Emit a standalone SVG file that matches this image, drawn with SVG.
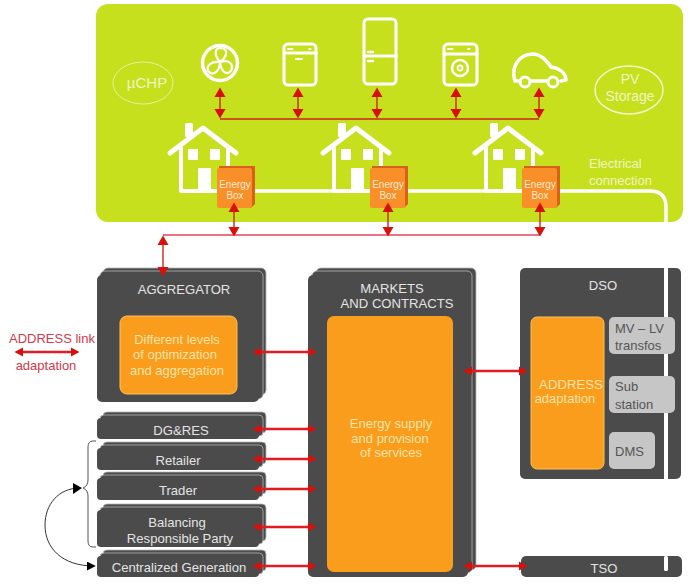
<svg xmlns="http://www.w3.org/2000/svg" width="700" height="587" viewBox="0 0 700 587">
<style>
text{font-family:"Liberation Sans",Arial,sans-serif;text-anchor:middle}
.w{fill:none;stroke:#fff;stroke-width:3;stroke-linecap:round;stroke-linejoin:round}
.wf{fill:#fff}
.t-lime{fill:#eef6c0;font-size:14px}
.t-box{fill:#f7e9d0;font-size:10px}
.t-dark{fill:#e4e4e4;font-size:13.100px}
.t-org{fill:#fbe3a8;font-size:13px}
.t-gray{fill:#555;font-size:13px;text-anchor:start}
.dk{fill:#4b4b4b}
.dk2{fill:#4b4b4b;stroke:#b5b5b5;stroke-width:.8}
.org{fill:#fa9d1c}
.gr{fill:#c6c6c6}
.bus{fill:none;stroke:#c8281c;stroke-width:1.4}
.bus2{fill:none;stroke:#e8405a;stroke-width:1.4}
.stem{stroke:#c8281c;stroke-width:1.4}
.head{fill:#d80f0a}
.link{stroke:#e01b24;stroke-width:2.400;fill:none}
</style>
<defs>
<g id="house" class="w">
<path d="M170 153 203 128 236 153" stroke-width="5"/>
<rect x="185" y="123" width="8" height="14" rx="1.500" class="wf" stroke="none"/>
<path d="M181 148V191H220M228 150V168" stroke-width="4"/>
<rect x="188" y="149" width="10" height="11" class="wf" stroke="none"/>
<rect x="210" y="149" width="10" height="11" class="wf" stroke="none"/>
<rect x="198" y="168" width="13" height="23" class="wf" stroke="none"/>
</g>
<g id="ebox">
<path d="M2 0H38V38L34 42V4H2Z" fill="#d8601a"/>
<rect x="0" y="2" width="35" height="40" rx="2" fill="#f98f28"/>
</g>
<path id="hd" class="head" d="M-5.500 0 0-9.500 5.500 0Z"/>
<path id="hs" class="head" d="M-4.500 0 0-8.500 4.500 0Z"/>
<marker id="tri" viewBox="0 0 10 10" refX="8" refY="5" markerWidth="9" markerHeight="9" markerUnits="userSpaceOnUse" orient="auto"><path d="M0 0 10 5 0 10Z" fill="#000"/></marker>
</defs>

<g id="home-area">
<rect x="96" y="4" width="587" height="218" rx="12" fill="#c6e01e"/>
<path d="M255 191H650Q666 191 666 207V222" fill="none" stroke="#fff" stroke-width="3.500"/>
</g>

<g id="uchp"><ellipse cx="143" cy="83" rx="30" ry="21" fill="none" stroke="#e6f2a0" stroke-width="1"/><text x="147" y="88" class="t-lime" style="font-size:15px">µCHP</text></g>
<g id="pv-storage"><ellipse cx="629" cy="90" rx="34" ry="24" fill="none" stroke="#f1f8c8" stroke-width="1.500"/><text x="630" y="84" class="t-lime">PV</text><text x="630" y="101" class="t-lime">Storage</text></g>

<g id="fan" class="w"><circle cx="220" cy="63" r="17.500" stroke-width="3.500"/><path d="M220 62C214 55 214 48 221 48 229 49 227 57 220 62ZM220 62C229 59 234 64 231 71 226 76 221 71 220 62ZM220 62C220 71 213 77 208 71 206 65 212 61 220 62Z" stroke-width="2.200" fill="#c6e01e"/></g>
<g id="dishwasher" class="w"><rect x="284" y="44" width="32" height="41" rx="4"/><path d="M284 53H316"/><path d="M296 59H302" stroke-width="2"/><path d="M288 49H294M309 49H311" stroke-width="1.800" stroke-dasharray="1.500 1.500"/></g>
<g id="fridge" class="w"><rect x="364" y="19" width="32" height="65" rx="4"/><path d="M364 56H396"/><path d="M368 52H373M368 61H373" stroke-width="2.500"/></g>
<g id="washer" class="w"><rect x="444" y="44" width="33" height="41" rx="4"/><path d="M444 54H477"/><circle cx="460" cy="68" r="8" stroke-width="2.500"/><circle cx="460" cy="68" r="2.500" stroke-width="1.800"/><path d="M448 49H454M468 49H470" stroke-width="1.800" stroke-dasharray="1.500 1.500"/></g>
<g id="car" class="w"><path d="M520 81H515C511 69 517 55 532 54 541 54 546 60 551 67 559 68 566 73 566 80L561 81M531 81H547" stroke-width="3.500"/><circle cx="525" cy="82" r="5" stroke-width="3"/><circle cx="553" cy="82" r="5" stroke-width="3"/></g>

<g id="house-1"><use href="#house"/></g>
<g id="house-2"><use href="#house" x="153"/></g>
<g id="house-3"><use href="#house" x="305"/></g>

<g id="energy-box-1"><use href="#ebox" x="217" y="166"/><text x="235" y="188" class="t-box">Energy</text><text x="235" y="199" class="t-box">Box</text></g>
<g id="energy-box-2"><use href="#ebox" x="370" y="166"/><text x="388" y="188" class="t-box">Energy</text><text x="388" y="199" class="t-box">Box</text></g>
<g id="energy-box-3"><use href="#ebox" x="522" y="166"/><text x="540" y="188" class="t-box">Energy</text><text x="540" y="199" class="t-box">Box</text></g>

<g id="electrical-label"><text x="589" y="168" class="t-lime" style="font-size:13px;text-anchor:start">Electrical</text><text x="589" y="185" class="t-lime" style="font-size:13px;text-anchor:start">connection</text></g>

<g id="aggregator">
<rect x="103" y="268" width="163" height="127" rx="5" class="dk2"/><rect x="100" y="271" width="163" height="128" rx="5" class="dk2"/><rect x="97" y="275" width="162" height="127" rx="5" class="dk"/>
<text x="184" y="294" class="t-dark">AGGREGATOR</text>
<rect x="120" y="316" width="117" height="78" rx="7" class="org" stroke="#fbc25c"/>
<text x="177" y="344" class="t-org">Different levels</text><text x="175" y="359" class="t-org">of optimization</text><text x="177" y="375" class="t-org">and aggregation</text>
</g>
<g id="dg-res"><rect x="103" y="412" width="163" height="21" rx="4" class="dk2"/><rect x="100" y="415" width="163" height="21" rx="4" class="dk2"/><rect x="97" y="418" width="162" height="21" rx="4" class="dk"/><text x="181" y="435" class="t-dark">DG&amp;RES</text></g>
<g id="retailer"><rect x="103" y="442" width="163" height="22" rx="4" class="dk2"/><rect x="100" y="445" width="163" height="22" rx="4" class="dk2"/><rect x="97" y="448" width="162" height="22" rx="4" class="dk"/><text x="178" y="465" class="t-dark">Retailer</text></g>
<g id="trader"><rect x="103" y="472" width="163" height="22" rx="4" class="dk2"/><rect x="100" y="475" width="163" height="22" rx="4" class="dk2"/><rect x="97" y="478" width="162" height="22" rx="4" class="dk"/><text x="178" y="495" class="t-dark">Trader</text></g>
<g id="balancing"><rect x="103" y="504" width="163" height="37" rx="4" class="dk2"/><rect x="100" y="507" width="163" height="37" rx="4" class="dk2"/><rect x="97" y="510" width="162" height="37" rx="4" class="dk"/><text x="177" y="527" class="t-dark">Balancing</text><text x="180" y="543" class="t-dark">Responsible Party</text></g>
<g id="centralized"><rect x="103" y="550" width="163" height="21" rx="4" class="dk2"/><rect x="100" y="553" width="163" height="21" rx="4" class="dk2"/><rect x="97" y="556" width="162" height="21" rx="4" class="dk"/><text x="179" y="572" class="t-dark">Centralized Generation</text></g>

<g id="markets">
<rect x="316" y="268" width="160" height="302" rx="5" class="dk2"/><rect x="312" y="271" width="160" height="302" rx="5" class="dk2"/><rect x="308" y="275" width="160" height="302" rx="5" class="dk"/>
<text x="392" y="293" class="t-dark">MARKETS</text><text x="397" y="308" class="t-dark">AND CONTRACTS</text>
<rect x="327" y="316" width="126" height="256" rx="7" class="org"/>
<text x="391" y="428" class="t-org">Energy supply</text><text x="390" y="443" class="t-org">and provision</text><text x="391" y="457" class="t-org">of services</text>
</g>

<g id="dso">
<rect x="520" y="268" width="161" height="211" rx="5" class="dk"/>
<rect x="664" y="268" width="4" height="211" fill="#fff"/>
<text x="603" y="290" class="t-dark">DSO</text>
<rect x="531" y="317" width="73" height="152" rx="6" class="org" stroke="#fbc25c"/>
<text x="571" y="389" class="t-org" style="font-size:13.200px">ADDRESS</text><text x="565" y="403" class="t-org">adaptation</text>
<rect x="609" y="317" width="66" height="37" rx="5" class="gr"/><text x="615" y="333" class="t-gray">MV – LV</text><text x="615" y="350" class="t-gray">transfos</text>
<rect x="609" y="376" width="66" height="37" rx="5" class="gr"/><text x="615" y="391" class="t-gray">Sub</text><text x="615" y="409" class="t-gray">station</text>
<rect x="609" y="432" width="46" height="37" rx="5" class="gr"/><text x="615" y="456" class="t-gray">DMS</text>
</g>
<g id="tso"><rect x="521" y="556" width="161" height="21" rx="5" class="dk"/><rect x="664" y="556" width="4" height="15" rx="1.500" fill="#fff"/><text x="604" y="573" class="t-dark">TSO</text></g>

<g id="address-link"><text x="52" y="343" style="font-size:13px" fill="#d4394c">ADDRESS link</text><text x="46" y="370" style="font-size:13px" fill="#d4394c">adaptation</text></g>

<g id="connectors">
<path class="bus" d="M220 119H539"/>
<path class="bus2" d="M163 235H540"/>
<g class="stem"><path d="M220 92V114M298 92V114M377 92V114M456 92V114M539 92V114M234 212V230M388 212V230M540 212V230M163 240V270"/></g>
<use href="#hd" x="220" y="97"/><use href="#hd" transform="translate(220 109) scale(1 -1)"/>
<use href="#hd" x="298" y="97"/><use href="#hd" transform="translate(298 109) scale(1 -1)"/>
<use href="#hd" x="377" y="97"/><use href="#hd" transform="translate(377 109) scale(1 -1)"/>
<use href="#hd" x="456" y="97"/><use href="#hd" transform="translate(456 109) scale(1 -1)"/>
<use href="#hd" x="539" y="97"/><use href="#hd" transform="translate(539 109) scale(1 -1)"/>
<use href="#hd" x="234" y="212"/><use href="#hd" transform="translate(234 227) scale(1 -1)"/>
<use href="#hd" x="388" y="212"/><use href="#hd" transform="translate(388 227) scale(1 -1)"/>
<use href="#hd" x="540" y="212"/><use href="#hd" transform="translate(540 227) scale(1 -1)"/>
<use href="#hd" x="163" y="245"/><use href="#hd" transform="translate(163 267) scale(1 -1)"/>

<g id="links">
<path class="link" d="M258 352H312M258 429H312M258 459H312M258 489H312M258 527H312M258 566H312M467 371H524M467 566H524M18 352H76"/>
<use href="#hs" transform="translate(261 352) rotate(-90)"/><use href="#hs" transform="translate(308 352) rotate(90)"/>
<use href="#hs" transform="translate(261 429) rotate(-90)"/><use href="#hs" transform="translate(308 429) rotate(90)"/>
<use href="#hs" transform="translate(261 459) rotate(-90)"/><use href="#hs" transform="translate(308 459) rotate(90)"/>
<use href="#hs" transform="translate(261 489) rotate(-90)"/><use href="#hs" transform="translate(308 489) rotate(90)"/>
<use href="#hs" transform="translate(261 527) rotate(-90)"/><use href="#hs" transform="translate(308 527) rotate(90)"/>
<use href="#hs" transform="translate(261 566) rotate(-90)"/><use href="#hs" transform="translate(308 566) rotate(90)"/>
<use href="#hs" transform="translate(472 371) rotate(-90)"/><use href="#hs" transform="translate(519 371) rotate(90)"/>
<use href="#hs" transform="translate(472 566) rotate(-90)"/><use href="#hs" transform="translate(519 566) rotate(90)"/>
<use href="#hs" transform="translate(23 352) rotate(-90)"/><use href="#hs" transform="translate(71 352) rotate(90)"/>
</g>

<path d="M96 441H93Q88 441 88 447V480Q88 486 83 488Q88 490 88 496V541Q88 547 93 547H96" fill="none" stroke="#555" stroke-width="1"/>
<path d="M80 488C58 488 45 505 45 525C45 548 62 566 94 566" fill="none" stroke="#333" stroke-width="1" marker-end="url(#tri)"/>
<path d="M73 483 82 488 73 494Z" fill="#000"/>
</g>
</svg>
